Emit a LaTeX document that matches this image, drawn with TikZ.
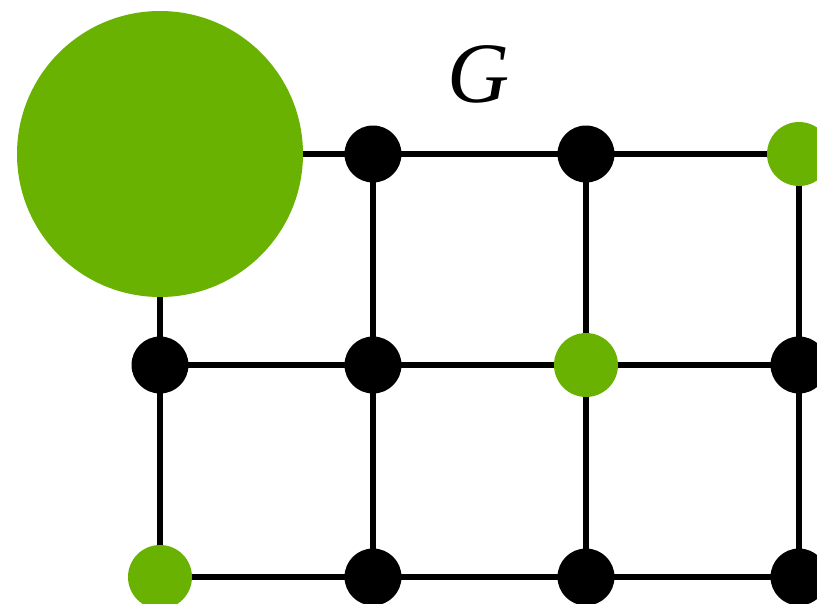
\documentclass[tikz,border=0pt]{standalone}
\usepackage{fontspec}
\setmainfont{Liberation Serif}
\usetikzlibrary{backgrounds}
\definecolor{leaf}{RGB}{106,178,2}
\begin{document}
\begin{tikzpicture}[x=1pt,y=-1pt,
  vtx/.style={circle,inner sep=0pt,fill=black,minimum size=57pt},
  gvtx/.style={circle,inner sep=0pt,fill=leaf,minimum size=64pt},
  bigvtx/.style={circle,inner sep=0pt,fill=leaf,minimum size=286pt},
  edge/.style={line width=6pt,black}]
\useasboundingbox (0,0) rectangle (817,603);
% row 1
\node[bigvtx] (a1) at (160,154) {};
\node[vtx]    (b1) at (373,154) {};
\node[vtx]    (c1) at (586,154) {};
\node[gvtx]   (d1) at (799,154) {};
% row 2
\node[vtx]    (a2) at (160,365) {};
\node[vtx]    (b2) at (373,365) {};
\node[gvtx]   (c2) at (586,365) {};
\node[vtx]    (d2) at (799,365) {};
% row 3
\node[gvtx]   (a3) at (160,577) {};
\node[vtx]    (b3) at (373,577) {};
\node[vtx]    (c3) at (586,577) {};
\node[vtx]    (d3) at (799,577) {};
% graph label
\node (lbl) at (479,74) {\fontsize{86}{86}\selectfont\itshape G};
\begin{scope}[on background layer]
  \foreach \r in {1,2,3}{
    \draw[edge] (a\r.center) -- (b\r.center) -- (c\r.center) -- (d\r.center);
  }
  \foreach \c in {a,b,c,d}{
    \draw[edge] (\c1.center) -- (\c2.center) -- (\c3.center);
  }
\end{scope}
\end{tikzpicture}
\end{document}
